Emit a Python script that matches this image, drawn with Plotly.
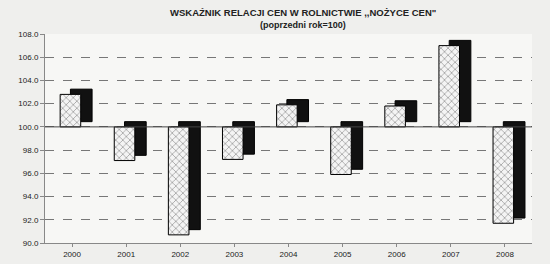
import plotly.graph_objects as go

years = ["2000", "2001", "2002", "2003", "2004", "2005", "2006", "2007", "2008"]
values = [102.8, 97.1, 90.7, 97.2, 101.9, 95.9, 101.8, 107.0, 91.7]
y_ticks = [90, 92, 94, 96, 98, 100, 102, 104, 106, 108]
base_value = 100
title_text = "WSKAŹNIK RELACJI CEN W ROLNICTWIE ,,NOŻYCE CEN\""
subtitle_text = "(poprzedni rok=100)"

dy = 0.45
fig = go.Figure()
# dark 3D depth
fig.add_trace(go.Bar(
    x=years, y=[v - base_value for v in values], base=[base_value + dy] * len(years),
    width=0.4, offset=-0.03,
    marker=dict(color="#111111", line=dict(color="#000000", width=1)),
    hoverinfo="skip", showlegend=False))
# front face
fig.add_trace(go.Bar(
    x=years, y=[v - base_value for v in values], base=[base_value] * len(years),
    width=0.38, offset=-0.22,
    marker=dict(color="white", line=dict(color="#000000", width=1),
                pattern=dict(shape="x", fgcolor="#555555", bgcolor="#f4f4f4", size=5, solidity=0.3)),
    showlegend=False))

fig.add_shape(type="line", xref="paper", yref="y", x0=0, x1=1, y0=100, y1=100,
              line=dict(color="#444444", width=1))

fig.add_annotation(text="<b>" + title_text + "</b>", xref="paper", yref="paper",
                   x=0.53, y=1, yshift=29, showarrow=False, font=dict(size=9.5))
fig.add_annotation(text="<b>" + subtitle_text + "</b>", xref="paper", yref="paper",
                   x=0.53, y=1, yshift=16, showarrow=False, font=dict(size=9))

fig.update_layout(
    width=550, height=264,
    margin=dict(l=45, r=18, t=34, b=21),
    paper_bgcolor="#efefed", plot_bgcolor="#f7f7f5",
    barmode="overlay",
    font=dict(family="Liberation Sans, Arial", color="#222222"),
    xaxis=dict(type="category", tickfont=dict(size=8), showline=True, linecolor="#888888",
               ticks="outside", ticklen=3, tickcolor="#888888", showgrid=False, automargin=False),
    yaxis=dict(range=[90, 108], tickvals=y_ticks, tickformat=".1f", tickfont=dict(size=8),
               showline=True, linecolor="#888888", ticks="outside", ticklen=4, tickcolor="#888888",
               gridcolor="#777777", griddash="dash", gridwidth=0.6, zeroline=False, mirror=False,
               automargin=False),
)
fig.write_html("out.html")
